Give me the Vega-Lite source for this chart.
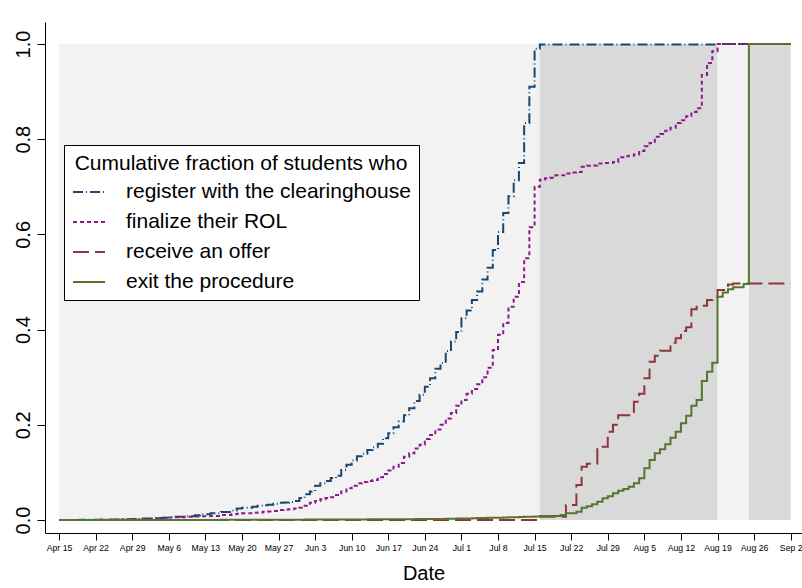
{
  "$schema": "https://vega.github.io/schema/vega-lite/v6.json",
  "width": 757,
  "height": 511,
  "autosize": {"type": "none"},
  "padding": {"left": 45, "top": 22, "right": 0, "bottom": 55},
  "background": "white",
  "config": {
    "font": "Liberation Sans",
    "view": {"stroke": null},
    "axis": {"grid": false, "domainColor": "black", "tickColor": "black", "labelColor": "black", "titleColor": "black", "titleFontWeight": "normal", "domainWidth": 1, "tickWidth": 1}
  },
  "datasets": {
    "series": [
      {"date": "2018-04-15", "register": 0, "finalize": 0, "offer": 0, "exit": 0},
      {"date": "2018-04-19", "register": 0.0005, "finalize": 0, "offer": 0, "exit": 0},
      {"date": "2018-04-23", "register": 0.001, "finalize": 0.0005, "offer": 0, "exit": 0},
      {"date": "2018-04-27", "register": 0.0015, "finalize": 0.001, "offer": 0, "exit": 0},
      {"date": "2018-04-29", "register": 0.002, "finalize": 0.001, "offer": 0, "exit": 0},
      {"date": "2018-05-01", "register": 0.003, "finalize": 0.002, "offer": 0, "exit": 0},
      {"date": "2018-05-03", "register": 0.004, "finalize": 0.0035, "offer": 0, "exit": 0},
      {"date": "2018-05-05", "register": 0.005, "finalize": 0.0045, "offer": 0, "exit": 0},
      {"date": "2018-05-06", "register": 0.006, "finalize": 0.0055, "offer": 0, "exit": 0},
      {"date": "2018-05-07", "register": 0.007, "finalize": 0.006, "offer": 0, "exit": 0},
      {"date": "2018-05-09", "register": 0.008, "finalize": 0.007, "offer": 0, "exit": 0},
      {"date": "2018-05-11", "register": 0.010, "finalize": 0.0075, "offer": 0, "exit": 0},
      {"date": "2018-05-12", "register": 0.012, "finalize": 0.008, "offer": 0, "exit": 0},
      {"date": "2018-05-14", "register": 0.014, "finalize": 0.0085, "offer": 0, "exit": 0},
      {"date": "2018-05-16", "register": 0.017, "finalize": 0.0105, "offer": 0, "exit": 0.0005},
      {"date": "2018-05-18", "register": 0.020, "finalize": 0.012, "offer": 0, "exit": 0.0005},
      {"date": "2018-05-19", "register": 0.024, "finalize": 0.013, "offer": 0, "exit": 0.0005},
      {"date": "2018-05-20", "register": 0.026, "finalize": 0.014, "offer": 0, "exit": 0.0005},
      {"date": "2018-05-22", "register": 0.028, "finalize": 0.015, "offer": 0, "exit": 0.0005},
      {"date": "2018-05-23", "register": 0.030, "finalize": 0.016, "offer": 0, "exit": 0.0005},
      {"date": "2018-05-24", "register": 0.031, "finalize": 0.0175, "offer": 0, "exit": 0.0005},
      {"date": "2018-05-25", "register": 0.032, "finalize": 0.018, "offer": 0, "exit": 0.0005},
      {"date": "2018-05-26", "register": 0.034, "finalize": 0.019, "offer": 0, "exit": 0.0005},
      {"date": "2018-05-27", "register": 0.036, "finalize": 0.021, "offer": 0, "exit": 0.0005},
      {"date": "2018-05-28", "register": 0.037, "finalize": 0.022, "offer": 0, "exit": 0.0005},
      {"date": "2018-05-29", "register": 0.038, "finalize": 0.0225, "offer": 0, "exit": 0.0005},
      {"date": "2018-05-30", "register": 0.040, "finalize": 0.024, "offer": 0, "exit": 0.0005},
      {"date": "2018-05-31", "register": 0.046, "finalize": 0.026, "offer": 0, "exit": 0.0005},
      {"date": "2018-06-01", "register": 0.054, "finalize": 0.030, "offer": 0, "exit": 0.001},
      {"date": "2018-06-02", "register": 0.060, "finalize": 0.036, "offer": 0, "exit": 0.001},
      {"date": "2018-06-03", "register": 0.072, "finalize": 0.040, "offer": 0, "exit": 0.001},
      {"date": "2018-06-04", "register": 0.077, "finalize": 0.0435, "offer": 0, "exit": 0.001},
      {"date": "2018-06-05", "register": 0.082, "finalize": 0.046, "offer": 0, "exit": 0.001},
      {"date": "2018-06-06", "register": 0.088, "finalize": 0.048, "offer": 0, "exit": 0.001},
      {"date": "2018-06-07", "register": 0.093, "finalize": 0.0525, "offer": 0, "exit": 0.001},
      {"date": "2018-06-08", "register": 0.105, "finalize": 0.060, "offer": 0, "exit": 0.001},
      {"date": "2018-06-09", "register": 0.116, "finalize": 0.0666, "offer": 0, "exit": 0.001},
      {"date": "2018-06-10", "register": 0.125, "finalize": 0.072, "offer": 0, "exit": 0.001},
      {"date": "2018-06-11", "register": 0.134, "finalize": 0.077, "offer": 0, "exit": 0.001},
      {"date": "2018-06-12", "register": 0.139, "finalize": 0.080, "offer": 0, "exit": 0.001},
      {"date": "2018-06-13", "register": 0.147, "finalize": 0.082, "offer": 0, "exit": 0.0015},
      {"date": "2018-06-14", "register": 0.153, "finalize": 0.084, "offer": 0, "exit": 0.0015},
      {"date": "2018-06-15", "register": 0.160, "finalize": 0.090, "offer": 0, "exit": 0.0015},
      {"date": "2018-06-16", "register": 0.172, "finalize": 0.0966, "offer": 0, "exit": 0.0015},
      {"date": "2018-06-17", "register": 0.182, "finalize": 0.104, "offer": 0, "exit": 0.0015},
      {"date": "2018-06-18", "register": 0.195, "finalize": 0.112, "offer": 0, "exit": 0.0015},
      {"date": "2018-06-19", "register": 0.207, "finalize": 0.120, "offer": 0, "exit": 0.0015},
      {"date": "2018-06-20", "register": 0.220, "finalize": 0.133, "offer": 0, "exit": 0.0015},
      {"date": "2018-06-21", "register": 0.235, "finalize": 0.140, "offer": 0, "exit": 0.0015},
      {"date": "2018-06-22", "register": 0.250, "finalize": 0.150, "offer": 0, "exit": 0.002},
      {"date": "2018-06-23", "register": 0.263, "finalize": 0.158, "offer": 0, "exit": 0.002},
      {"date": "2018-06-24", "register": 0.280, "finalize": 0.170, "offer": 0, "exit": 0.002},
      {"date": "2018-06-25", "register": 0.298, "finalize": 0.1786, "offer": 0, "exit": 0.002},
      {"date": "2018-06-26", "register": 0.318, "finalize": 0.190, "offer": 0, "exit": 0.002},
      {"date": "2018-06-27", "register": 0.330, "finalize": 0.200, "offer": 0, "exit": 0.002},
      {"date": "2018-06-28", "register": 0.355, "finalize": 0.213, "offer": 0, "exit": 0.0025},
      {"date": "2018-06-29", "register": 0.375, "finalize": 0.225, "offer": 0, "exit": 0.0025},
      {"date": "2018-06-30", "register": 0.395, "finalize": 0.240, "offer": 0, "exit": 0.003},
      {"date": "2018-07-01", "register": 0.424, "finalize": 0.252, "offer": 0, "exit": 0.003},
      {"date": "2018-07-02", "register": 0.440, "finalize": 0.265, "offer": 0, "exit": 0.003},
      {"date": "2018-07-03", "register": 0.462, "finalize": 0.275, "offer": 0, "exit": 0.0035},
      {"date": "2018-07-04", "register": 0.480, "finalize": 0.285, "offer": 0, "exit": 0.004},
      {"date": "2018-07-05", "register": 0.505, "finalize": 0.300, "offer": 0, "exit": 0.004},
      {"date": "2018-07-06", "register": 0.530, "finalize": 0.320, "offer": 0, "exit": 0.0045},
      {"date": "2018-07-07", "register": 0.567, "finalize": 0.357, "offer": 0, "exit": 0.005},
      {"date": "2018-07-08", "register": 0.605, "finalize": 0.389, "offer": 0, "exit": 0.005},
      {"date": "2018-07-09", "register": 0.645, "finalize": 0.414, "offer": 0, "exit": 0.0055},
      {"date": "2018-07-10", "register": 0.680, "finalize": 0.448, "offer": 0, "exit": 0.006},
      {"date": "2018-07-11", "register": 0.714, "finalize": 0.469, "offer": 0, "exit": 0.006},
      {"date": "2018-07-12", "register": 0.750, "finalize": 0.500, "offer": 0, "exit": 0.0065},
      {"date": "2018-07-13", "register": 0.834, "finalize": 0.550, "offer": 0, "exit": 0.007},
      {"date": "2018-07-14", "register": 0.910, "finalize": 0.615, "offer": 0, "exit": 0.007},
      {"date": "2018-07-15", "register": 0.990, "finalize": 0.700, "offer": 0, "exit": 0.0075},
      {"date": "2018-07-16", "register": 0.999, "finalize": 0.715, "offer": 0.007, "exit": 0.0084},
      {"date": "2018-07-17", "register": 0.999, "finalize": 0.718, "offer": 0.007, "exit": 0.0084},
      {"date": "2018-07-18", "register": 0.999, "finalize": 0.719, "offer": 0.007, "exit": 0.0084},
      {"date": "2018-07-19", "register": 0.999, "finalize": 0.724, "offer": 0.007, "exit": 0.0084},
      {"date": "2018-07-20", "register": 0.999, "finalize": 0.724, "offer": 0.007, "exit": 0.0105},
      {"date": "2018-07-21", "register": 0.999, "finalize": 0.728, "offer": 0.0315, "exit": 0.014},
      {"date": "2018-07-22", "register": 0.999, "finalize": 0.730, "offer": 0.0315, "exit": 0.014},
      {"date": "2018-07-23", "register": 0.999, "finalize": 0.731, "offer": 0.0735, "exit": 0.0175},
      {"date": "2018-07-24", "register": 0.999, "finalize": 0.742, "offer": 0.112, "exit": 0.026},
      {"date": "2018-07-25", "register": 0.999, "finalize": 0.744, "offer": 0.118, "exit": 0.029},
      {"date": "2018-07-26", "register": 0.999, "finalize": 0.745, "offer": 0.118, "exit": 0.033},
      {"date": "2018-07-27", "register": 0.999, "finalize": 0.749, "offer": 0.154, "exit": 0.0385},
      {"date": "2018-07-28", "register": 0.999, "finalize": 0.750, "offer": 0.154, "exit": 0.0455},
      {"date": "2018-07-29", "register": 0.999, "finalize": 0.750, "offer": 0.1855, "exit": 0.050},
      {"date": "2018-07-30", "register": 0.999, "finalize": 0.752, "offer": 0.200, "exit": 0.056},
      {"date": "2018-07-31", "register": 0.999, "finalize": 0.762, "offer": 0.220, "exit": 0.0616},
      {"date": "2018-08-01", "register": 0.999, "finalize": 0.764, "offer": 0.220, "exit": 0.065},
      {"date": "2018-08-02", "register": 0.999, "finalize": 0.765, "offer": 0.220, "exit": 0.070},
      {"date": "2018-08-03", "register": 0.999, "finalize": 0.768, "offer": 0.2485, "exit": 0.077},
      {"date": "2018-08-04", "register": 0.999, "finalize": 0.775, "offer": 0.265, "exit": 0.0875},
      {"date": "2018-08-05", "register": 0.999, "finalize": 0.785, "offer": 0.298, "exit": 0.1086},
      {"date": "2018-08-06", "register": 0.999, "finalize": 0.792, "offer": 0.3326, "exit": 0.126},
      {"date": "2018-08-07", "register": 0.999, "finalize": 0.805, "offer": 0.345, "exit": 0.140},
      {"date": "2018-08-08", "register": 0.999, "finalize": 0.811, "offer": 0.3557, "exit": 0.1485},
      {"date": "2018-08-09", "register": 0.999, "finalize": 0.818, "offer": 0.3557, "exit": 0.159},
      {"date": "2018-08-10", "register": 0.999, "finalize": 0.824, "offer": 0.3725, "exit": 0.173},
      {"date": "2018-08-11", "register": 0.999, "finalize": 0.834, "offer": 0.3817, "exit": 0.1855},
      {"date": "2018-08-12", "register": 0.999, "finalize": 0.840, "offer": 0.397, "exit": 0.203},
      {"date": "2018-08-13", "register": 0.999, "finalize": 0.848, "offer": 0.405, "exit": 0.219},
      {"date": "2018-08-14", "register": 0.999, "finalize": 0.857, "offer": 0.4426, "exit": 0.240},
      {"date": "2018-08-15", "register": 0.999, "finalize": 0.865, "offer": 0.448, "exit": 0.252},
      {"date": "2018-08-16", "register": 0.999, "finalize": 0.935, "offer": 0.450, "exit": 0.292},
      {"date": "2018-08-17", "register": 0.999, "finalize": 0.960, "offer": 0.462, "exit": 0.3116},
      {"date": "2018-08-18", "register": 0.999, "finalize": 0.985, "offer": 0.468, "exit": 0.3305},
      {"date": "2018-08-19", "register": 1, "finalize": 1, "offer": 0.483, "exit": 0.469},
      {"date": "2018-08-20", "register": 1, "finalize": 1, "offer": 0.483, "exit": 0.478},
      {"date": "2018-08-21", "register": 1, "finalize": 1, "offer": 0.495, "exit": 0.485},
      {"date": "2018-08-22", "register": 1, "finalize": 1, "offer": 0.497, "exit": 0.489},
      {"date": "2018-08-23", "register": 1, "finalize": 1, "offer": 0.497, "exit": 0.489},
      {"date": "2018-08-24", "register": 1, "finalize": 1, "offer": 0.497, "exit": 0.496},
      {"date": "2018-08-25", "register": 1, "finalize": 1, "offer": 0.497, "exit": 1},
      {"date": "2018-09-02", "register": 1, "finalize": 1, "offer": 0.497, "exit": 1}
    ],
    "bands": [
      {"phase": "Application Phase", "start": "2018-04-15", "end": "2018-07-16", "shade": "light"},
      {"phase": "Phase 1", "start": "2018-07-16", "end": "2018-08-19", "shade": "dark"},
      {"phase": "Between phases", "start": "2018-08-19", "end": "2018-08-25", "shade": "light"},
      {"phase": "Phase 2", "start": "2018-08-25", "end": "2018-09-02", "shade": "dark"}
    ],
    "labels": [
      {"label": "Application Phase", "date": "2018-05-27"},
      {"label": "Phase 1", "date": "2018-08-01"},
      {"label": "Phase 2", "date": "2018-08-22"}
    ]
  },
  "layer": [
    {
      "data": {"name": "bands", "format": {"parse": {"start": "date:'%Y-%m-%d'", "end": "date:'%Y-%m-%d'"}}},
      "mark": {"type": "rect"},
      "encoding": {
        "x": {"field": "start", "type": "temporal", "title": "Date",
          "scale": {"domain": [{"year": 2018, "month": 4, "date": 12, "hours": 7, "minutes": 42}, {"year": 2018, "month": 9, "date": 4, "hours": 4}]},
          "axis": {"tickCount": {"interval": "week", "step": 1}, "format": "%b %-d", "labelFontSize": 8.7, "labelPadding": 3, "tickSize": 7, "labelOverlap": false, "labelFlush": false, "titleFontSize": 20, "titlePadding": 12}},
        "x2": {"field": "end"},
        "y": {"datum": 0, "type": "quantitative", "title": null,
          "scale": {"domain": [-0.0273, 1.0462], "nice": false, "zero": false},
          "axis": {"values": [0, 0.2, 0.4, 0.6, 0.8, 1], "format": ".1f", "labelAngle": -90, "labelAlign": "center", "labelBaseline": "alphabetic", "labelFontSize": 20, "labelPadding": 8, "tickSize": 8}},
        "y2": {"datum": 1},
        "fill": {"field": "shade", "type": "nominal", "scale": {"domain": ["light", "dark"], "range": ["#f2f2f2", "#d9d9d9"]}, "legend": null}
      }
    },
    {
      "data": {"name": "labels", "format": {"parse": {"date": "date:'%Y-%m-%d'"}}},
      "mark": {"type": "rule", "color": "#222222", "strokeWidth": 1},
      "encoding": {
        "x": {"field": "date", "type": "temporal", "title": "Date"},
        "y": {"datum": 1.019, "type": "quantitative", "title": null},
        "y2": {"datum": 0.95}
      }
    },
    {
      "data": {"name": "labels", "format": {"parse": {"date": "date:'%Y-%m-%d'"}}},
      "mark": {"type": "text", "fontSize": 21, "baseline": "alphabetic", "align": "center", "color": "black"},
      "encoding": {
        "x": {"field": "date", "type": "temporal", "title": "Date"},
        "y": {"datum": 1.042, "type": "quantitative", "title": null},
        "text": {"field": "label"}
      }
    },
    {
      "data": {"name": "series", "format": {"parse": {"date": "date:'%Y-%m-%d'"}}},
      "transform": [{"fold": ["register", "finalize", "offer", "exit"], "as": ["series", "value"]}],
      "mark": {"type": "line", "interpolate": "step-after", "strokeWidth": 2},
      "encoding": {
        "x": {"field": "date", "type": "temporal", "title": "Date"},
        "y": {"field": "value", "type": "quantitative", "title": null},
        "color": {"field": "series", "type": "nominal",
          "scale": {"domain": ["register", "finalize", "offer", "exit"], "range": ["#1a476f", "#8b1a8b", "#90353b", "#55752f"]},
          "legend": {"title": "Cumulative fraction of students who", "orient": "none", "legendX": 19, "legendY": 123, "direction": "vertical", "fillColor": "white", "strokeColor": "black", "padding": 8, "titleFontSize": 21, "titleFontWeight": "normal", "titleColor": "black", "titleAnchor": "middle", "titlePadding": 1, "titleLimit": 600, "labelLimit": 600, "labelFontSize": 21, "labelColor": "black", "labelOffset": 20, "symbolSize": 1024, "symbolStrokeWidth": 2, "rowPadding": 3,
            "labelExpr": "datum.label == 'register' ? 'register with the clearinghouse' : datum.label == 'finalize' ? 'finalize their ROL' : datum.label == 'offer' ? 'receive an offer' : 'exit the procedure'"}},
        "strokeDash": {"field": "series", "type": "nominal",
          "scale": {"domain": ["register", "finalize", "offer", "exit"], "range": [[10, 3, 1, 3], [4, 3], [16, 6], [1, 0]]},
          "legend": {"title": "Cumulative fraction of students who", "orient": "none", "legendX": 19, "legendY": 123, "direction": "vertical", "fillColor": "white", "strokeColor": "black", "padding": 8, "titleFontSize": 21, "titleFontWeight": "normal", "titleColor": "black", "titleAnchor": "middle", "titlePadding": 1, "titleLimit": 600, "labelLimit": 600, "labelFontSize": 21, "labelColor": "black", "labelOffset": 20, "symbolSize": 1024, "symbolStrokeWidth": 2, "rowPadding": 3,
            "labelExpr": "datum.label == 'register' ? 'register with the clearinghouse' : datum.label == 'finalize' ? 'finalize their ROL' : datum.label == 'offer' ? 'receive an offer' : 'exit the procedure'"}}
      }
    }
  ]
}
